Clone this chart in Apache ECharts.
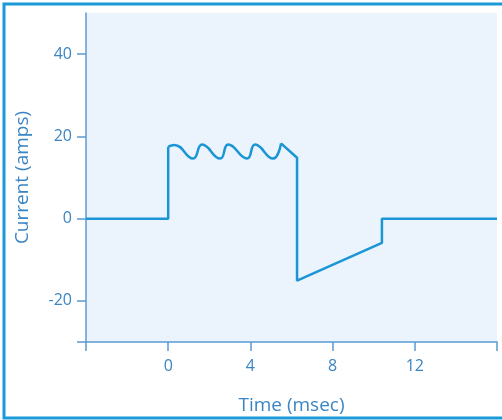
<!DOCTYPE html>
<html>
<head>
<meta charset="utf-8">
<script src="https://cdn.jsdelivr.net/npm/echarts@6/dist/echarts.min.js"></script>
<style>
html,body{margin:0;padding:0;background:#fff;}
#c{width:502px;height:420px;}
</style>
</head>
<body>
<div id="c"></div>
<script>
// Time (msec) / current (amps) readings
var baseLine = [[-4, 0], [0, 0], [0, 17.5]];
var ripple = [[0, 17.5], [0.3, 17.9], [1.21, 14.6], [1.65, 18], [2.53, 14.6], [2.92, 18], [3.84, 14.6], [4.23, 18], [5.10, 14.6], [5.49, 18.3]];
var tail = [[5.49, 18.3], [6.27, 14.8], [6.27, -15.1], [10.4, -5.9], [10.4, 0], [16, 0]];
var xTicks = [-4, 0, 4, 8, 12, 16];
var xLabels = [0, 4, 8, 12];
var yTicks = [-30, -20, 0, 20, 40];
var yLabels = [-20, 0, 20, 40];

var axisColor = '#5b9bcf';
var textColor = '#3a85c2';
var lineColor = '#1a96d6';
var font = '"Open Sans", sans-serif';

var chart = echarts.init(document.getElementById('c'));
var lineStyle = { color: lineColor, width: 2.5 };
chart.setOption({
  animation: false,
  grid: { left: 86, right: 5, top: 13, bottom: 77, show: true, backgroundColor: '#ebf3fc', borderWidth: 0 },
  graphic: [{
    type: 'rect', z: 100,
    shape: { x: 4, y: 4, width: 510, height: 414 },
    style: { fill: 'none', stroke: '#1a9ad8', lineWidth: 3 }
  }],
  xAxis: {
    type: 'value', min: -4, max: 16,
    name: 'Time (msec)', nameLocation: 'middle', nameGap: 54,
    nameTextStyle: { color: textColor, fontSize: 19, fontFamily: font },
    axisLine: { show: true, onZero: false, lineStyle: { color: axisColor, width: 1.5 } },
    axisTick: { show: true, length: 9, customValues: xTicks, lineStyle: { color: axisColor, width: 1.5 } },
    axisLabel: { customValues: xLabels, color: textColor, fontSize: 16, fontFamily: font, margin: 16 },
    splitLine: { show: false }
  },
  yAxis: {
    type: 'value', min: -30, max: 50,
    name: 'Current (amps)', nameLocation: 'middle', nameGap: 54,
    nameTextStyle: { color: textColor, fontSize: 19, fontFamily: font },
    axisLine: { show: true, onZero: false, lineStyle: { color: axisColor, width: 1.5 } },
    axisTick: { show: true, length: 9, customValues: yTicks, lineStyle: { color: axisColor, width: 1.5 } },
    axisLabel: { customValues: yLabels, color: textColor, fontSize: 16, fontFamily: font, margin: 14 },
    splitLine: { show: false }
  },
  series: [
    { type: 'line', data: baseLine, symbol: 'none', lineStyle: lineStyle },
    { type: 'line', data: ripple, symbol: 'none', smooth: 0.5, lineStyle: lineStyle },
    { type: 'line', data: tail, symbol: 'none', lineStyle: lineStyle }
  ]
});
</script>
</body>
</html>
